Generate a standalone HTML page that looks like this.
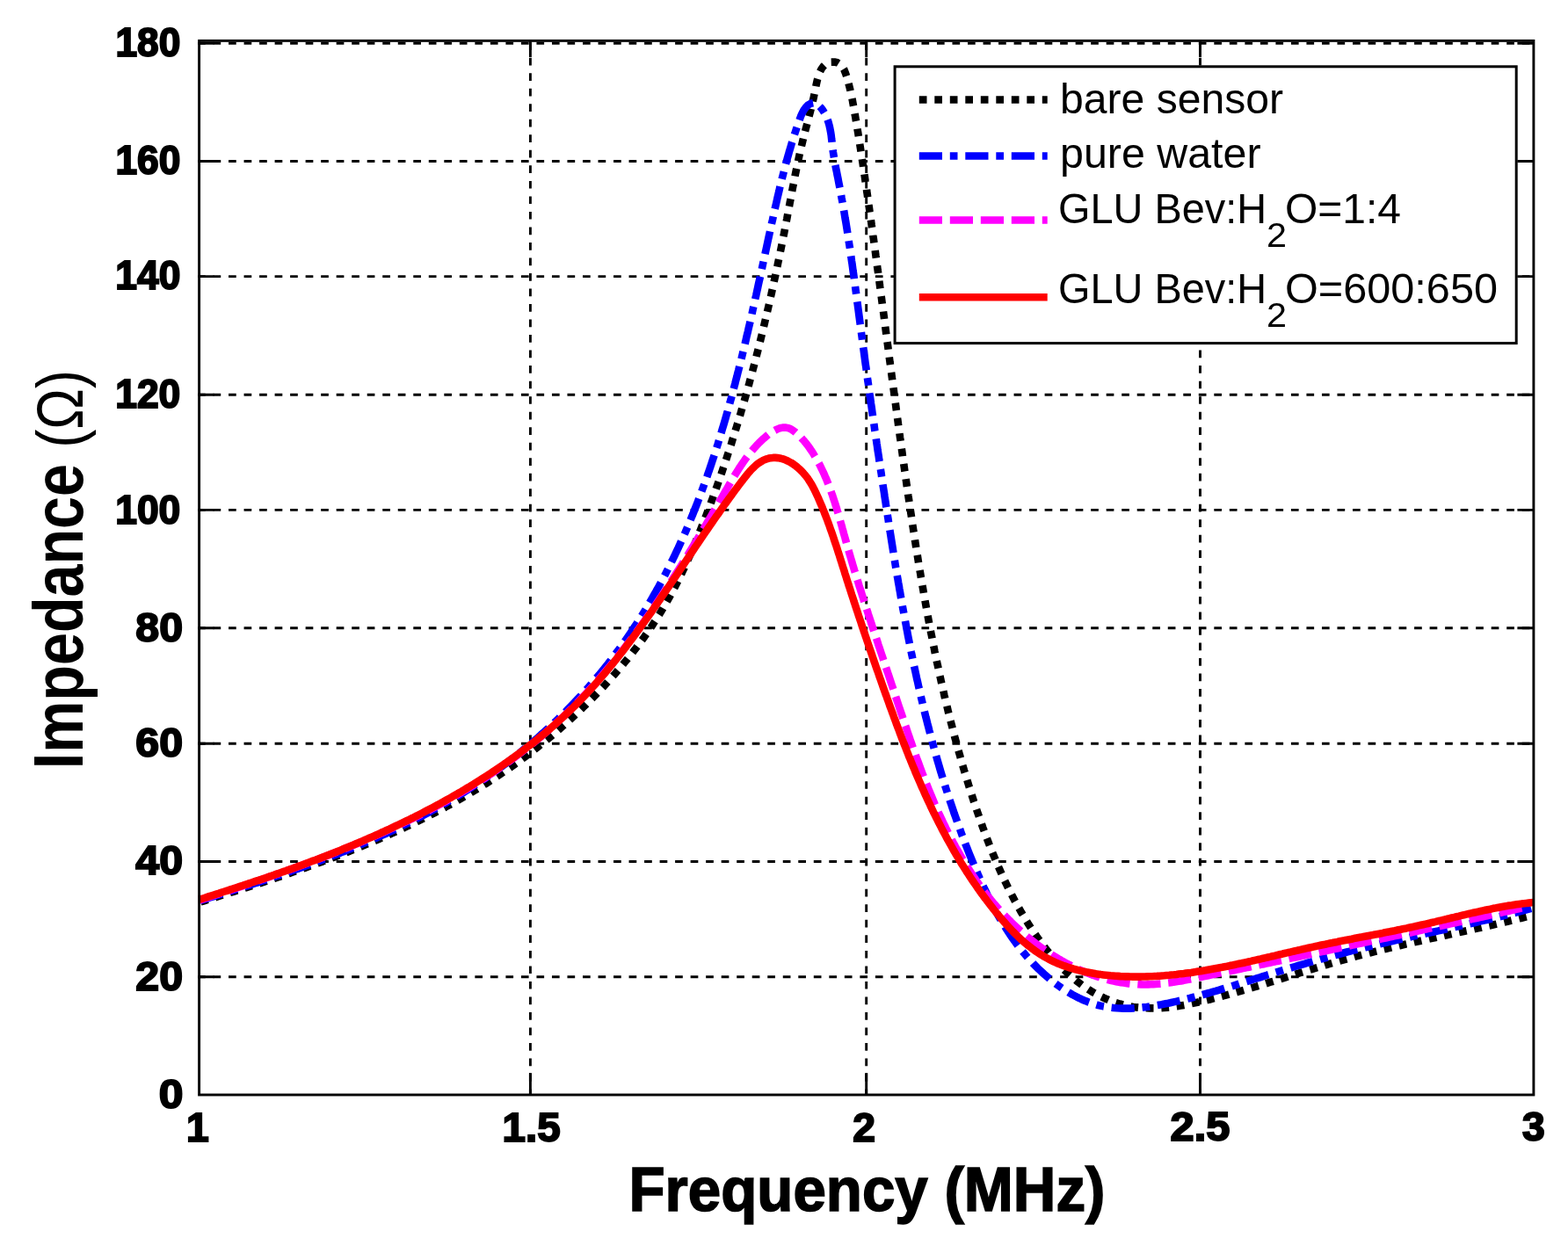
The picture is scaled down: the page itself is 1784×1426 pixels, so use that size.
<!DOCTYPE html>
<html><head><meta charset="utf-8"><title>Impedance vs Frequency</title>
<style>html,body{margin:0;padding:0;background:#fff;} svg{display:block;}</style>
</head><body>
<svg width="1784" height="1426" viewBox="0 0 1784 1426">
<rect width="1784" height="1426" fill="#fff"/>
<g stroke="#000" stroke-width="2.9" stroke-dasharray="8.7 8.82" fill="none">
<line x1="603.4" y1="48.2" x2="603.4" y2="1246.0"/>
<line x1="985.7" y1="48.2" x2="985.7" y2="1246.0"/>
<line x1="1365.5" y1="48.2" x2="1365.5" y2="1246.0"/>
<line x1="225.0" y1="49.3" x2="1744.9" y2="49.3"/>
<line x1="225.0" y1="183.5" x2="1744.9" y2="183.5"/>
<line x1="225.0" y1="314.6" x2="1744.9" y2="314.6"/>
<line x1="225.0" y1="449.2" x2="1744.9" y2="449.2"/>
<line x1="225.0" y1="580.4" x2="1744.9" y2="580.4"/>
<line x1="225.0" y1="714.8" x2="1744.9" y2="714.8"/>
<line x1="225.0" y1="846.2" x2="1744.9" y2="846.2"/>
<line x1="225.0" y1="980.5" x2="1744.9" y2="980.5"/>
<line x1="225.0" y1="1111.8" x2="1744.9" y2="1111.8"/>
</g>
<path d="M603.4,46.4 V64.9 M603.4,1246.0 V1221.0 M985.7,46.4 V64.9 M985.7,1246.0 V1221.0 M1365.5,46.4 V64.9 M1365.5,1246.0 V1221.0 M226.6,49.3 H243.6 M1744.9,49.3 H1726.4 M226.6,183.5 H243.6 M1744.9,183.5 H1726.4 M226.6,314.6 H243.6 M1744.9,314.6 H1726.4 M226.6,449.2 H243.6 M1744.9,449.2 H1726.4 M226.6,580.4 H243.6 M1744.9,580.4 H1726.4 M226.6,714.8 H243.6 M1744.9,714.8 H1726.4 M226.6,846.2 H243.6 M1744.9,846.2 H1726.4 M226.6,980.5 H243.6 M1744.9,980.5 H1726.4 M226.6,1111.8 H243.6 M1744.9,1111.8 H1726.4" stroke="#000" stroke-width="2.9" fill="none"/>
<g fill="none" stroke-width="8.6" stroke-linejoin="round">
<path d="M228.2,1026.4 L231.9,1025.3 L235.6,1024.1 L239.3,1023.0 L243.1,1021.8 L246.8,1020.7 L250.5,1019.5 L254.2,1018.4 L258.0,1017.2 L261.7,1016.0 L265.4,1014.9 L269.1,1013.7 L272.9,1012.5 L276.6,1011.3 L280.3,1010.1 L284.0,1008.9 L287.8,1007.7 L291.5,1006.5 L295.2,1005.3 L298.9,1004.1 L302.7,1002.9 L306.4,1001.6 L310.1,1000.4 L313.8,999.1 L317.6,997.9 L321.3,996.6 L325.0,995.4 L328.7,994.1 L332.4,992.8 L336.1,991.5 L339.9,990.2 L343.6,988.9 L347.3,987.6 L351.0,986.3 L354.7,984.9 L358.4,983.6 L362.1,982.2 L365.8,980.9 L369.4,979.5 L373.1,978.1 L376.8,976.8 L380.5,975.4 L384.2,974.0 L387.8,972.5 L391.5,971.1 L395.2,969.7 L398.8,968.2 L402.5,966.8 L406.1,965.3 L409.8,963.8 L413.4,962.3 L417.0,960.8 L420.7,959.3 L424.3,957.8 L427.9,956.3 L431.5,954.7 L435.1,953.2 L438.7,951.6 L442.3,950.0 L445.9,948.4 L449.5,946.8 L453.0,945.2 L456.6,943.5 L460.1,941.9 L463.7,940.2 L467.2,938.5 L470.8,936.8 L474.3,935.1 L477.8,933.4 L481.3,931.7 L484.8,929.9 L488.3,928.2 L491.8,926.4 L495.3,924.6 L498.8,922.8 L502.2,921.0 L505.7,919.1 L509.1,917.3 L512.6,915.4 L516.0,913.5 L519.4,911.6 L522.8,909.7 L526.2,907.8 L529.6,905.8 L533.0,903.8 L536.3,901.8 L539.7,899.8 L543.0,897.8 L546.4,895.8 L549.7,893.7 L553.0,891.7 L556.3,889.6 L559.6,887.4 L562.9,885.3 L566.1,883.2 L569.4,881.0 L572.6,878.8 L575.9,876.6 L579.1,874.4 L582.3,872.2 L585.5,869.9 L588.7,867.6 L591.8,865.3 L595.0,863.0 L598.1,860.7 L601.2,858.3 L604.4,856.0 L607.5,853.6 L610.6,851.2 L613.6,848.7 L616.7,846.3 L619.7,843.8 L622.8,841.4 L625.8,838.9 L628.8,836.4 L631.8,833.8 L634.7,831.3 L637.7,828.7 L640.7,826.1 L643.6,823.5 L646.5,820.9 L649.4,818.3 L652.3,815.6 L655.1,813.0 L658.0,810.3 L660.8,807.6 L663.6,804.8 L666.4,802.1 L669.2,799.3 L672.0,796.6 L674.8,793.8 L677.5,791.0 L680.2,788.2 L682.9,785.3 L685.6,782.5 L688.3,779.6 L690.9,776.7 L693.5,773.8 L696.2,770.8 L698.8,767.9 L701.3,764.9 L703.9,762.0 L706.4,759.0 L708.9,756.0 L711.4,752.9 L713.9,749.9 L716.4,746.8 L718.8,743.8 L721.2,740.7 L723.6,737.6 L726.0,734.4 L728.3,731.3 L730.7,728.1 L733.0,724.9 L735.2,721.7 L737.5,718.5 L739.7,715.3 L741.9,712.1 L744.0,708.8 L746.2,705.5 L748.3,702.2 L750.4,698.9 L752.4,695.5 L754.4,692.2 L756.4,688.8 L758.3,685.4 L760.3,682.0 L762.2,678.6 L764.0,675.2 L765.9,671.7 L767.7,668.2 L769.5,664.8 L771.2,661.3 L773.0,657.8 L774.7,654.2 L776.4,650.7 L778.1,647.2 L779.7,643.6 L781.3,640.0 L782.9,636.5 L784.5,632.9 L786.1,629.3 L787.7,625.7 L789.2,622.1 L790.7,618.5 L792.2,614.8 L793.7,611.2 L795.2,607.6 L796.7,603.9 L798.1,600.3 L799.5,596.6 L801.0,593.0 L802.4,589.3 L803.8,585.7 L805.2,582.0 L806.6,578.3 L808.0,574.7 L809.3,571.0 L810.7,567.3 L812.0,563.6 L813.4,559.9 L814.7,556.3 L816.0,552.6 L817.3,548.9 L818.6,545.2 L819.9,541.5 L821.2,537.8 L822.4,534.1 L823.7,530.3 L825.0,526.6 L826.2,522.9 L827.4,519.2 L828.6,515.5 L829.9,511.8 L831.1,508.0 L832.3,504.3 L833.4,500.6 L834.6,496.8 L835.8,493.1 L836.9,489.3 L838.1,485.6 L839.2,481.9 L840.4,478.1 L841.5,474.4 L842.6,470.6 L843.7,466.8 L844.8,463.1 L845.9,459.3 L847.0,455.5 L848.1,451.8 L849.1,448.0 L850.2,444.2 L851.2,440.5 L852.3,436.7 L853.3,432.9 L854.4,429.1 L855.4,425.3 L856.4,421.5 L857.4,417.7 L858.4,414.0 L859.4,410.2 L860.4,406.4 L861.3,402.6 L862.3,398.8 L863.3,395.0 L864.2,391.2 L865.2,387.3 L866.1,383.5 L867.1,379.7 L868.0,375.9 L868.9,372.1 L869.8,368.3 L870.7,364.4 L871.6,360.6 L872.5,356.8 L873.4,353.0 L874.3,349.1 L875.2,345.3 L876.0,341.5 L876.9,337.6 L877.8,333.8 L878.6,330.0 L879.5,326.1 L880.3,322.3 L881.1,318.4 L882.0,314.6 L882.8,310.8 L883.6,306.9 L884.4,303.1 L885.2,299.2 L886.0,295.4 L886.8,291.5 L887.6,287.6 L888.4,283.8 L889.2,279.9 L890.0,276.1 L890.7,272.2 L891.5,268.3 L892.3,264.5 L893.0,260.6 L893.8,256.7 L894.5,252.9 L895.3,249.0 L896.0,245.1 L896.7,241.3 L897.5,237.4 L898.2,233.5 L898.9,229.6 L899.7,225.8 L900.4,221.9 L901.1,218.0 L901.8,214.2 L902.6,210.3 L903.3,206.5 L904.1,202.7 L904.8,198.8 L905.6,195.0 L906.4,191.2 L907.2,187.4 L908.0,183.6 L908.8,179.8 L909.6,176.1 L910.4,172.3 L911.3,168.6 L912.2,164.9 L913.1,161.2 L914.0,157.5 L914.9,153.8 L915.8,150.2 L916.8,146.5 L917.8,142.9 L918.8,139.2 L919.7,135.4 L920.7,131.7 L921.7,127.9 L922.7,124.0 L923.1,122.0 L923.6,120.0 L924.1,118.0 L924.6,116.0 L925.0,114.0 L925.5,111.9 L926.0,109.8 L926.4,107.7 L926.8,105.5 L927.3,103.3 L927.7,101.1 L928.2,98.9 L928.6,96.7 L929.1,94.5 L929.6,92.3 L930.1,90.1 L930.7,88.0 L931.3,86.0 L932.0,84.0 L932.8,82.1 L934.5,78.6 L936.6,75.6 L939.1,73.2 L942.1,71.5 L945.6,70.6 L949.3,70.5 L952.8,71.3 L955.9,73.2 L958.4,75.9 L960.4,79.3 L961.2,81.3 L962.0,83.3 L962.7,85.3 L963.4,87.4 L964.0,89.5 L964.6,91.6 L965.2,93.6 L965.7,95.7 L966.2,97.7 L966.7,99.7 L967.2,101.7 L967.6,103.6 L968.1,105.6 L968.9,109.5 L969.7,113.3 L970.4,117.2 L971.1,121.0 L971.8,124.8 L972.4,128.6 L973.1,132.4 L973.7,136.2 L974.4,140.1 L975.0,143.9 L975.6,147.7 L976.3,151.6 L976.9,155.5 L977.5,159.3 L978.1,163.2 L978.7,167.0 L979.3,170.9 L979.9,174.8 L980.5,178.7 L981.1,182.6 L981.7,186.4 L982.2,190.3 L982.8,194.2 L983.4,198.1 L984.0,202.0 L984.5,205.9 L985.1,209.8 L985.7,213.6 L986.2,217.5 L986.8,221.4 L987.3,225.3 L987.9,229.2 L988.4,233.1 L989.0,237.0 L989.5,240.9 L990.1,244.7 L990.6,248.6 L991.2,252.5 L991.7,256.4 L992.3,260.3 L992.8,264.2 L993.3,268.1 L993.9,272.0 L994.4,275.8 L994.9,279.7 L995.5,283.6 L996.0,287.5 L996.5,291.4 L997.1,295.3 L997.6,299.2 L998.1,303.1 L998.6,307.0 L999.2,310.9 L999.7,314.7 L1000.2,318.6 L1000.7,322.5 L1001.2,326.4 L1001.8,330.3 L1002.3,334.2 L1002.8,338.1 L1003.3,342.0 L1003.8,345.9 L1004.3,349.8 L1004.9,353.6 L1005.4,357.5 L1005.9,361.4 L1006.4,365.3 L1006.9,369.2 L1007.4,373.1 L1007.9,377.0 L1008.4,380.9 L1009.0,384.8 L1009.5,388.7 L1010.0,392.6 L1010.5,396.4 L1011.0,400.3 L1011.5,404.2 L1012.0,408.1 L1012.5,412.0 L1013.1,415.9 L1013.6,419.8 L1014.1,423.7 L1014.6,427.6 L1015.1,431.5 L1015.6,435.3 L1016.2,439.2 L1016.7,443.1 L1017.2,447.0 L1017.7,450.9 L1018.2,454.8 L1018.8,458.7 L1019.3,462.6 L1019.8,466.5 L1020.3,470.3 L1020.8,474.2 L1021.4,478.1 L1021.9,482.0 L1022.4,485.9 L1023.0,489.8 L1023.5,493.7 L1024.0,497.6 L1024.6,501.4 L1025.1,505.3 L1025.6,509.2 L1026.2,513.1 L1026.7,517.0 L1027.2,520.9 L1027.8,524.8 L1028.3,528.7 L1028.9,532.5 L1029.4,536.4 L1030.0,540.3 L1030.5,544.2 L1031.1,548.1 L1031.6,552.0 L1032.2,555.9 L1032.8,559.7 L1033.3,563.6 L1033.9,567.5 L1034.5,571.4 L1035.0,575.3 L1035.6,579.2 L1036.2,583.0 L1036.8,586.9 L1037.4,590.8 L1037.9,594.7 L1038.5,598.6 L1039.1,602.4 L1039.7,606.3 L1040.3,610.2 L1040.9,614.1 L1041.5,618.0 L1042.1,621.8 L1042.7,625.7 L1043.4,629.6 L1044.0,633.5 L1044.6,637.3 L1045.2,641.2 L1045.9,645.1 L1046.5,649.0 L1047.2,652.8 L1047.8,656.7 L1048.5,660.6 L1049.1,664.4 L1049.8,668.3 L1050.5,672.2 L1051.1,676.0 L1051.8,679.9 L1052.5,683.8 L1053.2,687.6 L1053.9,691.5 L1054.6,695.4 L1055.3,699.2 L1056.0,703.1 L1056.7,706.9 L1057.5,710.8 L1058.2,714.6 L1058.9,718.5 L1059.7,722.3 L1060.5,726.2 L1061.2,730.0 L1062.0,733.9 L1062.8,737.7 L1063.5,741.6 L1064.3,745.4 L1065.1,749.2 L1065.9,753.1 L1066.8,756.9 L1067.6,760.7 L1068.4,764.6 L1069.2,768.4 L1070.1,772.2 L1070.9,776.1 L1071.8,779.9 L1072.7,783.7 L1073.6,787.5 L1074.4,791.4 L1075.3,795.2 L1076.2,799.0 L1077.2,802.8 L1078.1,806.6 L1079.0,810.4 L1080.0,814.2 L1080.9,818.0 L1081.9,821.8 L1082.9,825.6 L1083.8,829.4 L1084.8,833.2 L1085.8,837.0 L1086.8,840.8 L1087.9,844.6 L1088.9,848.4 L1089.9,852.2 L1091.0,856.0 L1092.1,859.7 L1093.1,863.5 L1094.2,867.3 L1095.3,871.1 L1096.4,874.8 L1097.5,878.6 L1098.7,882.4 L1099.8,886.1 L1101.0,889.9 L1102.1,893.6 L1103.3,897.4 L1104.5,901.1 L1105.7,904.9 L1106.9,908.6 L1108.1,912.4 L1109.4,916.1 L1110.6,919.8 L1111.9,923.6 L1113.2,927.3 L1114.5,931.0 L1115.8,934.7 L1117.1,938.5 L1118.4,942.2 L1119.8,945.9 L1121.1,949.6 L1122.5,953.3 L1123.9,956.9 L1125.3,960.6 L1126.8,964.3 L1128.2,967.9 L1129.7,971.6 L1131.2,975.2 L1132.7,978.8 L1134.2,982.5 L1135.8,986.1 L1137.4,989.6 L1139.0,993.2 L1140.6,996.8 L1142.2,1000.3 L1143.9,1003.9 L1145.6,1007.4 L1147.3,1010.9 L1149.1,1014.4 L1150.8,1017.8 L1152.6,1021.3 L1154.4,1024.7 L1156.3,1028.2 L1158.2,1031.6 L1160.1,1034.9 L1162.0,1038.3 L1164.0,1041.6 L1166.0,1045.0 L1168.0,1048.3 L1170.0,1051.5 L1172.1,1054.8 L1174.2,1058.0 L1176.4,1061.2 L1178.6,1064.4 L1180.8,1067.6 L1183.0,1070.7 L1185.3,1073.8 L1187.7,1076.9 L1190.0,1080.0 L1192.4,1083.0 L1194.8,1086.0 L1197.3,1089.0 L1199.8,1091.9 L1202.4,1094.8 L1205.0,1097.7 L1207.6,1100.5 L1210.3,1103.2 L1213.1,1106.0 L1215.9,1108.6 L1218.8,1111.2 L1221.8,1113.8 L1224.8,1116.3 L1227.9,1118.7 L1231.0,1121.0 L1234.3,1123.3 L1237.6,1125.5 L1241.0,1127.7 L1242.7,1128.7 L1244.4,1129.7 L1246.2,1130.7 L1247.9,1131.7 L1249.7,1132.6 L1251.5,1133.6 L1253.4,1134.5 L1255.2,1135.3 L1257.0,1136.2 L1258.9,1137.0 L1260.8,1137.8 L1262.6,1138.6 L1264.5,1139.3 L1266.4,1140.0 L1268.3,1140.7 L1270.2,1141.3 L1274.0,1142.5 L1277.8,1143.5 L1281.6,1144.4 L1285.4,1145.2 L1289.3,1145.9 L1293.1,1146.4 L1296.9,1146.8 L1300.8,1147.1 L1304.6,1147.3 L1308.5,1147.4 L1312.3,1147.4 L1316.2,1147.4 L1320.0,1147.2 L1323.9,1146.9 L1327.7,1146.6 L1331.6,1146.2 L1335.4,1145.7 L1339.3,1145.2 L1343.1,1144.6 L1347.0,1143.9 L1350.8,1143.2 L1354.7,1142.4 L1358.5,1141.6 L1362.3,1140.8 L1366.2,1139.9 L1370.0,1139.0 L1373.8,1138.1 L1377.6,1137.2 L1381.4,1136.2 L1385.2,1135.2 L1389.0,1134.2 L1392.8,1133.2 L1396.6,1132.2 L1400.4,1131.1 L1404.2,1130.1 L1407.9,1129.0 L1411.7,1127.9 L1415.5,1126.8 L1419.2,1125.7 L1423.0,1124.6 L1426.7,1123.5 L1430.5,1122.3 L1434.2,1121.2 L1438.0,1120.1 L1441.7,1118.9 L1445.4,1117.7 L1449.2,1116.6 L1452.9,1115.4 L1456.7,1114.2 L1460.4,1113.1 L1464.1,1111.9 L1467.9,1110.7 L1471.6,1109.6 L1475.3,1108.4 L1479.1,1107.2 L1482.8,1106.1 L1486.5,1104.9 L1490.3,1103.7 L1494.0,1102.6 L1497.8,1101.4 L1501.5,1100.3 L1505.3,1099.2 L1509.0,1098.0 L1512.8,1096.9 L1516.5,1095.8 L1520.3,1094.7 L1524.0,1093.7 L1527.8,1092.6 L1531.6,1091.5 L1535.3,1090.5 L1539.1,1089.5 L1542.9,1088.4 L1546.7,1087.4 L1550.5,1086.4 L1554.3,1085.5 L1558.1,1084.5 L1561.9,1083.5 L1565.7,1082.6 L1569.5,1081.7 L1573.3,1080.7 L1577.1,1079.8 L1580.9,1078.9 L1584.7,1078.0 L1588.6,1077.1 L1592.4,1076.2 L1596.2,1075.3 L1600.0,1074.4 L1603.9,1073.6 L1607.7,1072.7 L1611.5,1071.8 L1615.3,1071.0 L1619.2,1070.1 L1623.0,1069.3 L1626.9,1068.4 L1630.7,1067.6 L1634.5,1066.7 L1638.4,1065.9 L1642.2,1065.1 L1646.0,1064.2 L1649.9,1063.4 L1653.7,1062.5 L1657.5,1061.7 L1661.4,1060.9 L1665.2,1060.0 L1669.0,1059.2 L1672.9,1058.3 L1676.7,1057.5 L1680.5,1056.6 L1684.4,1055.8 L1688.2,1054.9 L1692.0,1054.0 L1695.8,1053.2 L1699.7,1052.3 L1703.5,1051.4 L1707.3,1050.5 L1711.1,1049.6 L1714.9,1048.7 L1718.7,1047.8 L1722.5,1046.9 L1726.3,1045.9 L1730.1,1045.0 L1733.9,1044.0 L1737.7,1043.1 L1741.5,1042.1 L1743.4,1041.6" stroke="#000" stroke-dasharray="8.7 8.8"/>
<path d="M228.0,1024.8 L231.6,1023.7 L235.3,1022.6 L238.9,1021.5 L242.5,1020.4 L246.1,1019.3 L249.7,1018.1 L253.3,1017.0 L257.0,1015.9 L260.6,1014.7 L264.2,1013.6 L267.8,1012.4 L271.4,1011.3 L275.1,1010.1 L278.7,1009.0 L282.3,1007.8 L285.9,1006.6 L289.6,1005.4 L293.2,1004.3 L296.8,1003.1 L300.4,1001.9 L304.1,1000.7 L307.7,999.5 L311.3,998.2 L314.9,997.0 L318.5,995.8 L322.1,994.6 L325.8,993.3 L329.4,992.1 L333.0,990.8 L336.6,989.5 L340.2,988.3 L343.8,987.0 L347.4,985.7 L351.0,984.4 L354.6,983.1 L358.2,981.7 L361.8,980.4 L365.3,979.1 L368.9,977.7 L372.5,976.4 L376.1,975.0 L379.6,973.6 L383.2,972.2 L386.7,970.9 L390.3,969.4 L393.9,968.0 L397.4,966.6 L400.9,965.1 L404.5,963.7 L408.0,962.2 L411.5,960.8 L415.0,959.3 L418.5,957.8 L422.0,956.2 L425.5,954.7 L429.0,953.2 L432.5,951.6 L436.0,950.1 L439.5,948.5 L442.9,946.9 L446.4,945.3 L449.9,943.7 L453.3,942.0 L456.7,940.4 L460.2,938.7 L463.6,937.1 L467.0,935.4 L470.4,933.7 L473.8,931.9 L477.2,930.2 L480.6,928.4 L483.9,926.7 L487.3,924.9 L490.6,923.1 L494.0,921.3 L497.3,919.4 L500.6,917.6 L503.9,915.7 L507.3,913.8 L510.5,911.9 L513.8,910.0 L517.1,908.1 L520.4,906.1 L523.6,904.2 L526.9,902.2 L530.1,900.2 L533.3,898.1 L536.5,896.1 L539.7,894.0 L542.9,891.9 L546.1,889.8 L549.2,887.7 L552.4,885.6 L555.5,883.4 L558.6,881.2 L561.7,879.0 L564.8,876.8 L567.9,874.6 L571.0,872.3 L574.1,870.1 L577.1,867.8 L580.1,865.5 L583.1,863.1 L586.2,860.8 L589.1,858.4 L592.1,856.0 L595.1,853.6 L598.0,851.2 L601.0,848.8 L603.9,846.3 L606.8,843.9 L609.7,841.4 L612.6,838.9 L615.4,836.3 L618.3,833.8 L621.1,831.2 L623.9,828.7 L626.7,826.1 L629.5,823.5 L632.3,820.9 L635.0,818.2 L637.7,815.6 L640.5,812.9 L643.2,810.2 L645.8,807.5 L648.5,804.8 L651.2,802.0 L653.8,799.3 L656.4,796.5 L659.0,793.8 L661.6,791.0 L664.1,788.1 L666.7,785.3 L669.2,782.5 L671.7,779.6 L674.2,776.8 L676.7,773.9 L679.1,771.0 L681.6,768.1 L684.0,765.1 L686.4,762.2 L688.8,759.2 L691.1,756.3 L693.5,753.3 L695.8,750.3 L698.1,747.3 L700.3,744.2 L702.6,741.2 L704.8,738.2 L707.1,735.1 L709.3,732.0 L711.5,728.9 L713.6,725.8 L715.8,722.7 L717.9,719.6 L720.0,716.4 L722.1,713.2 L724.2,710.1 L726.2,706.9 L728.3,703.7 L730.3,700.4 L732.3,697.2 L734.3,694.0 L736.2,690.7 L738.2,687.4 L740.1,684.1 L742.0,680.8 L743.9,677.5 L745.8,674.2 L747.6,670.9 L749.5,667.6 L751.3,664.2 L753.1,660.8 L754.9,657.5 L756.7,654.1 L758.4,650.7 L760.1,647.3 L761.8,643.9 L763.5,640.5 L765.2,637.1 L766.9,633.7 L768.5,630.2 L770.1,626.8 L771.8,623.3 L773.3,619.9 L774.9,616.4 L776.5,613.0 L778.0,609.5 L779.6,606.0 L781.1,602.5 L782.6,599.0 L784.0,595.5 L785.5,592.0 L786.9,588.5 L788.4,585.0 L789.8,581.4 L791.2,577.9 L792.6,574.4 L794.0,570.8 L795.3,567.3 L796.7,563.7 L798.0,560.1 L799.3,556.6 L800.6,553.0 L801.9,549.4 L803.2,545.8 L804.5,542.2 L805.7,538.6 L807.0,535.0 L808.2,531.4 L809.4,527.8 L810.6,524.2 L811.8,520.6 L813.0,517.0 L814.2,513.3 L815.3,509.7 L816.5,506.1 L817.6,502.4 L818.7,498.8 L819.8,495.1 L820.9,491.5 L822.0,487.8 L823.1,484.2 L824.2,480.5 L825.3,476.8 L826.3,473.2 L827.4,469.5 L828.4,465.8 L829.4,462.1 L830.4,458.5 L831.5,454.8 L832.5,451.1 L833.5,447.4 L834.4,443.7 L835.4,440.0 L836.4,436.3 L837.3,432.6 L838.3,428.9 L839.2,425.2 L840.2,421.5 L841.1,417.8 L842.0,414.1 L843.0,410.4 L843.9,406.7 L844.8,402.9 L845.7,399.2 L846.6,395.5 L847.5,391.8 L848.4,388.1 L849.2,384.3 L850.1,380.6 L851.0,376.9 L851.8,373.2 L852.7,369.5 L853.6,365.7 L854.4,362.0 L855.3,358.3 L856.1,354.6 L856.9,350.8 L857.8,347.1 L858.6,343.4 L859.4,339.6 L860.3,335.9 L861.1,332.2 L861.9,328.5 L862.7,324.7 L863.5,321.0 L864.4,317.3 L865.2,313.6 L866.0,309.9 L866.8,306.1 L867.6,302.4 L868.4,298.7 L869.2,295.0 L870.0,291.3 L870.8,287.5 L871.6,283.8 L872.4,280.1 L873.2,276.4 L874.0,272.7 L874.8,269.0 L875.6,265.3 L876.4,261.6 L877.2,257.9 L878.0,254.2 L878.9,250.5 L879.7,246.8 L880.5,243.1 L881.3,239.4 L882.1,235.7 L883.0,232.0 L883.8,228.4 L884.6,224.7 L885.5,221.0 L886.4,217.3 L887.2,213.6 L888.1,209.9 L889.0,206.3 L889.9,202.6 L890.9,198.9 L891.8,195.2 L892.8,191.5 L893.7,187.9 L894.7,184.2 L895.7,180.5 L896.8,176.8 L897.8,173.1 L898.9,169.4 L900.0,165.8 L901.1,162.1 L902.3,158.4 L903.4,154.7 L904.6,151.0 L905.8,147.3 L907.1,143.6 L908.4,139.9 L909.7,136.2 L911.0,132.6 L912.6,129.0 L914.4,125.6 L916.6,122.5 L919.2,119.7 L922.3,117.8 L925.5,117.2 L928.8,118.2 L931.8,120.4 L934.6,123.3 L935.8,124.9 L936.9,126.6 L937.9,128.3 L938.9,130.1 L939.8,131.9 L941.3,135.6 L942.6,139.3 L943.6,143.0 L944.4,146.7 L945.1,150.4 L945.7,154.1 L946.1,157.9 L946.6,161.6 L947.0,165.4 L947.4,169.1 L947.9,172.9 L948.5,176.6 L949.1,180.4 L949.7,184.1 L950.4,187.9 L951.1,191.6 L951.9,195.4 L952.6,199.1 L953.4,202.9 L954.1,206.7 L954.8,210.4 L955.6,214.2 L956.3,218.0 L957.0,221.7 L957.6,225.5 L958.3,229.2 L959.0,233.0 L959.6,236.8 L960.3,240.5 L960.9,244.3 L961.5,248.1 L962.2,251.9 L962.8,255.6 L963.4,259.4 L964.0,263.2 L964.6,266.9 L965.1,270.7 L965.7,274.5 L966.3,278.3 L966.9,282.0 L967.4,285.8 L968.0,289.6 L968.5,293.4 L969.0,297.1 L969.6,300.9 L970.1,304.7 L970.6,308.5 L971.2,312.2 L971.7,316.0 L972.2,319.8 L972.7,323.6 L973.2,327.3 L973.7,331.1 L974.2,334.9 L974.7,338.7 L975.2,342.5 L975.7,346.2 L976.2,350.0 L976.7,353.8 L977.2,357.6 L977.7,361.3 L978.2,365.1 L978.7,368.9 L979.2,372.7 L979.7,376.4 L980.2,380.2 L980.7,384.0 L981.2,387.8 L981.7,391.5 L982.2,395.3 L982.7,399.1 L983.2,402.9 L983.7,406.6 L984.2,410.4 L984.7,414.2 L985.3,417.9 L985.8,421.7 L986.3,425.5 L986.8,429.3 L987.3,433.0 L987.9,436.8 L988.4,440.6 L988.9,444.3 L989.4,448.1 L990.0,451.9 L990.5,455.6 L991.0,459.4 L991.6,463.2 L992.1,466.9 L992.6,470.7 L993.2,474.5 L993.7,478.3 L994.3,482.0 L994.8,485.8 L995.3,489.6 L995.9,493.3 L996.4,497.1 L997.0,500.9 L997.5,504.6 L998.1,508.4 L998.6,512.2 L999.2,515.9 L999.8,519.7 L1000.3,523.5 L1000.9,527.2 L1001.4,531.0 L1002.0,534.8 L1002.6,538.5 L1003.1,542.3 L1003.7,546.1 L1004.2,549.9 L1004.8,553.6 L1005.4,557.4 L1006.0,561.2 L1006.5,564.9 L1007.1,568.7 L1007.7,572.5 L1008.2,576.3 L1008.8,580.0 L1009.4,583.8 L1010.0,587.6 L1010.6,591.3 L1011.1,595.1 L1011.7,598.9 L1012.3,602.7 L1012.9,606.4 L1013.5,610.2 L1014.1,614.0 L1014.7,617.7 L1015.3,621.5 L1015.9,625.3 L1016.5,629.1 L1017.1,632.8 L1017.7,636.6 L1018.3,640.4 L1018.9,644.1 L1019.6,647.9 L1020.2,651.7 L1020.8,655.4 L1021.5,659.2 L1022.1,663.0 L1022.8,666.7 L1023.4,670.5 L1024.1,674.3 L1024.7,678.0 L1025.4,681.8 L1026.0,685.6 L1026.7,689.3 L1027.4,693.1 L1028.1,696.8 L1028.8,700.6 L1029.5,704.3 L1030.2,708.1 L1030.9,711.8 L1031.6,715.6 L1032.3,719.3 L1033.0,723.1 L1033.7,726.8 L1034.5,730.6 L1035.2,734.3 L1036.0,738.1 L1036.7,741.8 L1037.5,745.5 L1038.3,749.3 L1039.0,753.0 L1039.8,756.8 L1040.6,760.5 L1041.4,764.2 L1042.2,767.9 L1043.0,771.7 L1043.9,775.4 L1044.7,779.1 L1045.5,782.8 L1046.4,786.5 L1047.2,790.3 L1048.1,794.0 L1049.0,797.7 L1049.8,801.4 L1050.7,805.1 L1051.6,808.8 L1052.5,812.5 L1053.4,816.2 L1054.4,819.9 L1055.3,823.6 L1056.3,827.3 L1057.2,831.0 L1058.2,834.7 L1059.1,838.3 L1060.1,842.0 L1061.1,845.7 L1062.1,849.4 L1063.1,853.0 L1064.2,856.7 L1065.2,860.4 L1066.2,864.0 L1067.3,867.7 L1068.4,871.4 L1069.4,875.0 L1070.5,878.7 L1071.6,882.3 L1072.7,886.0 L1073.9,889.6 L1075.0,893.2 L1076.1,896.9 L1077.3,900.5 L1078.5,904.1 L1079.7,907.8 L1080.8,911.4 L1082.1,915.0 L1083.3,918.6 L1084.5,922.2 L1085.7,925.8 L1087.0,929.4 L1088.3,933.0 L1089.6,936.6 L1090.9,940.2 L1092.2,943.8 L1093.5,947.4 L1094.8,950.9 L1096.2,954.5 L1097.5,958.1 L1098.9,961.7 L1100.3,965.2 L1101.7,968.8 L1103.1,972.3 L1104.6,975.9 L1106.0,979.4 L1107.5,983.0 L1109.0,986.5 L1110.5,990.0 L1112.0,993.5 L1113.5,997.1 L1115.1,1000.6 L1116.6,1004.1 L1118.2,1007.5 L1119.8,1011.0 L1121.5,1014.5 L1123.1,1017.9 L1124.8,1021.3 L1126.5,1024.7 L1128.3,1028.1 L1130.0,1031.5 L1131.8,1034.9 L1133.7,1038.2 L1135.5,1041.5 L1137.4,1044.8 L1139.3,1048.1 L1141.3,1051.3 L1143.3,1054.5 L1145.3,1057.7 L1147.4,1060.9 L1149.5,1064.0 L1151.6,1067.2 L1153.8,1070.2 L1156.0,1073.3 L1158.3,1076.3 L1160.6,1079.3 L1162.9,1082.2 L1165.3,1085.1 L1167.8,1088.0 L1170.2,1090.8 L1172.8,1093.6 L1175.3,1096.4 L1178.0,1099.1 L1180.6,1101.8 L1183.4,1104.4 L1186.2,1107.0 L1189.0,1109.6 L1191.9,1112.1 L1194.8,1114.5 L1197.8,1116.9 L1200.9,1119.3 L1204.0,1121.6 L1207.1,1123.8 L1210.4,1126.0 L1213.6,1128.1 L1216.9,1130.1 L1220.2,1132.0 L1223.6,1133.8 L1227.1,1135.6 L1230.5,1137.2 L1234.0,1138.7 L1237.5,1140.1 L1241.1,1141.4 L1244.7,1142.6 L1248.3,1143.7 L1252.0,1144.6 L1255.6,1145.4 L1259.3,1146.0 L1263.0,1146.6 L1266.8,1147.0 L1270.5,1147.3 L1274.3,1147.5 L1278.1,1147.6 L1281.8,1147.6 L1285.6,1147.6 L1289.5,1147.4 L1293.3,1147.1 L1297.1,1146.8 L1300.9,1146.4 L1304.7,1146.0 L1308.6,1145.4 L1312.4,1144.9 L1316.2,1144.2 L1320.0,1143.6 L1323.8,1142.8 L1327.6,1142.1 L1331.4,1141.3 L1335.2,1140.4 L1338.9,1139.6 L1342.7,1138.7 L1346.4,1137.8 L1350.1,1136.9 L1353.8,1136.0 L1357.5,1135.0 L1361.2,1134.0 L1364.9,1133.0 L1368.5,1132.0 L1372.2,1131.0 L1375.8,1130.0 L1379.4,1128.9 L1383.1,1127.9 L1386.7,1126.8 L1390.3,1125.7 L1393.9,1124.6 L1397.5,1123.5 L1401.1,1122.4 L1404.7,1121.3 L1408.3,1120.2 L1411.9,1119.0 L1415.5,1117.9 L1419.1,1116.8 L1422.7,1115.7 L1426.3,1114.5 L1429.9,1113.4 L1433.5,1112.3 L1437.1,1111.1 L1440.7,1110.0 L1444.4,1108.9 L1448.0,1107.7 L1451.6,1106.6 L1455.2,1105.5 L1458.9,1104.4 L1462.5,1103.3 L1466.2,1102.2 L1469.8,1101.1 L1473.5,1100.0 L1477.1,1098.9 L1480.8,1097.8 L1484.4,1096.8 L1488.1,1095.7 L1491.8,1094.7 L1495.5,1093.6 L1499.1,1092.6 L1502.8,1091.5 L1506.5,1090.5 L1510.2,1089.5 L1513.9,1088.5 L1517.6,1087.5 L1521.3,1086.5 L1524.9,1085.5 L1528.6,1084.5 L1532.3,1083.5 L1536.0,1082.6 L1539.8,1081.6 L1543.5,1080.7 L1547.2,1079.8 L1550.9,1078.9 L1554.6,1078.0 L1558.3,1077.1 L1562.0,1076.2 L1565.7,1075.3 L1569.4,1074.4 L1573.1,1073.5 L1576.9,1072.7 L1580.6,1071.8 L1584.3,1071.0 L1588.0,1070.1 L1591.7,1069.3 L1595.4,1068.4 L1599.2,1067.6 L1602.9,1066.8 L1606.6,1065.9 L1610.3,1065.1 L1614.1,1064.3 L1617.8,1063.5 L1621.5,1062.6 L1625.2,1061.8 L1628.9,1061.0 L1632.7,1060.2 L1636.4,1059.4 L1640.1,1058.5 L1643.8,1057.7 L1647.5,1056.9 L1651.3,1056.1 L1655.0,1055.2 L1658.7,1054.4 L1662.4,1053.6 L1666.1,1052.7 L1669.9,1051.9 L1673.6,1051.0 L1677.3,1050.2 L1681.0,1049.3 L1684.7,1048.4 L1688.4,1047.6 L1692.2,1046.7 L1695.9,1045.8 L1699.6,1044.9 L1703.3,1044.0 L1707.0,1043.1 L1710.7,1042.2 L1714.4,1041.2 L1718.1,1040.3 L1721.8,1039.3 L1725.5,1038.4 L1729.2,1037.4 L1732.9,1036.4 L1736.6,1035.4 L1740.3,1034.4 L1742.1,1033.9" stroke="#00f" stroke-dasharray="26.2 8.8 8.7 8.8"/>
<path d="M226.9,1024.5 L229.6,1023.6 L232.2,1022.8 L234.8,1021.9 L237.4,1021.1 L240.1,1020.2 L242.7,1019.3 L245.3,1018.5 L248.0,1017.6 L250.6,1016.7 L253.3,1015.9 L255.9,1015.0 L258.6,1014.1 L261.2,1013.3 L263.9,1012.4 L266.5,1011.5 L269.2,1010.6 L271.8,1009.7 L274.5,1008.8 L277.2,1007.9 L279.8,1007.0 L282.5,1006.1 L285.2,1005.2 L287.8,1004.3 L290.5,1003.4 L293.2,1002.5 L295.9,1001.6 L298.5,1000.7 L301.2,999.8 L303.9,998.8 L306.6,997.9 L309.2,997.0 L311.9,996.0 L314.6,995.1 L317.3,994.1 L319.9,993.2 L322.6,992.2 L325.3,991.3 L328.0,990.3 L330.7,989.4 L333.3,988.4 L336.0,987.4 L338.7,986.5 L341.4,985.5 L344.1,984.5 L346.7,983.5 L349.4,982.5 L352.1,981.5 L354.8,980.5 L357.5,979.5 L360.1,978.5 L362.8,977.5 L365.5,976.4 L368.2,975.4 L370.8,974.4 L373.5,973.4 L376.2,972.3 L378.8,971.3 L381.5,970.2 L384.2,969.2 L386.8,968.1 L389.5,967.0 L392.1,966.0 L394.8,964.9 L397.5,963.8 L400.1,962.7 L402.8,961.6 L405.4,960.5 L408.1,959.4 L410.7,958.3 L413.4,957.2 L416.0,956.0 L418.6,954.9 L421.3,953.8 L423.9,952.6 L426.5,951.5 L429.2,950.3 L431.8,949.2 L434.4,948.0 L437.0,946.8 L439.6,945.6 L442.2,944.4 L444.8,943.2 L447.4,942.0 L450.0,940.8 L452.6,939.6 L455.2,938.4 L457.8,937.2 L460.4,935.9 L463.0,934.7 L465.6,933.4 L468.1,932.2 L470.7,930.9 L473.3,929.7 L475.8,928.4 L478.4,927.1 L480.9,925.8 L483.5,924.5 L486.0,923.2 L488.6,921.9 L491.1,920.5 L493.6,919.2 L496.1,917.9 L498.7,916.5 L501.2,915.2 L503.7,913.8 L506.2,912.4 L508.7,911.1 L511.2,909.7 L513.6,908.3 L516.1,906.9 L518.6,905.4 L521.1,904.0 L523.5,902.6 L526.0,901.2 L528.4,899.7 L530.9,898.3 L533.3,896.8 L535.7,895.3 L538.2,893.8 L540.6,892.3 L543.0,890.8 L545.4,889.3 L547.8,887.8 L550.2,886.3 L552.6,884.8 L554.9,883.2 L557.3,881.7 L559.7,880.1 L562.0,878.5 L564.4,876.9 L566.7,875.3 L569.0,873.7 L571.4,872.1 L573.7,870.5 L576.0,868.9 L578.3,867.2 L580.6,865.6 L582.9,863.9 L585.2,862.2 L587.4,860.6 L589.7,858.9 L591.9,857.2 L594.2,855.5 L596.4,853.7 L598.7,852.0 L600.9,850.3 L603.1,848.5 L605.3,846.7 L607.5,845.0 L609.7,843.2 L611.8,841.4 L614.0,839.6 L616.2,837.8 L618.3,835.9 L620.5,834.1 L622.6,832.2 L624.7,830.4 L626.8,828.5 L628.9,826.6 L631.0,824.7 L633.1,822.8 L635.2,820.9 L637.2,819.0 L639.3,817.0 L641.3,815.1 L643.4,813.1 L645.4,811.2 L647.4,809.2 L649.4,807.2 L651.4,805.2 L653.4,803.2 L655.4,801.2 L657.4,799.1 L659.3,797.1 L661.3,795.1 L663.2,793.0 L665.2,790.9 L667.1,788.9 L669.0,786.8 L670.9,784.7 L672.8,782.6 L674.7,780.5 L676.6,778.3 L678.5,776.2 L680.4,774.1 L682.2,771.9 L684.1,769.8 L685.9,767.6 L687.8,765.5 L689.6,763.3 L691.4,761.1 L693.3,758.9 L695.1,756.7 L696.9,754.5 L698.7,752.3 L700.5,750.1 L702.2,747.9 L704.0,745.6 L705.8,743.4 L707.6,741.1 L709.3,738.9 L711.1,736.6 L712.8,734.4 L714.5,732.1 L716.3,729.8 L718.0,727.5 L719.7,725.2 L721.4,722.9 L723.1,720.6 L724.8,718.3 L726.5,716.0 L728.1,713.7 L729.8,711.4 L731.5,709.0 L733.2,706.7 L734.8,704.4 L736.5,702.0 L738.1,699.7 L739.7,697.3 L741.4,695.0 L743.0,692.6 L744.6,690.2 L746.2,687.9 L747.8,685.5 L749.4,683.1 L751.0,680.7 L752.6,678.4 L754.2,676.0 L755.8,673.6 L757.4,671.2 L759.0,668.8 L760.5,666.4 L762.1,664.0 L763.6,661.6 L765.2,659.2 L766.7,656.7 L768.3,654.3 L769.8,651.9 L771.4,649.5 L772.9,647.1 L774.4,644.6 L775.9,642.2 L777.4,639.8 L778.9,637.4 L780.5,634.9 L782.0,632.5 L783.5,630.1 L784.9,627.6 L786.4,625.2 L787.9,622.7 L789.4,620.3 L790.9,617.9 L792.4,615.4 L793.8,613.0 L795.3,610.5 L796.8,608.1 L798.2,605.6 L799.7,603.2 L801.1,600.7 L802.6,598.3 L804.0,595.8 L805.5,593.4 L806.9,591.0 L808.3,588.5 L809.8,586.1 L811.2,583.6 L812.6,581.2 L814.0,578.7 L815.5,576.3 L816.9,573.9 L818.3,571.4 L819.7,569.0 L821.1,566.5 L822.5,564.1 L823.9,561.7 L825.3,559.2 L826.7,556.8 L828.1,554.4 L829.5,551.9 L830.9,549.5 L832.3,547.1 L833.8,544.7 L835.2,542.3 L836.6,539.9 L838.1,537.5 L839.6,535.2 L841.0,532.8 L842.6,530.5 L844.1,528.2 L845.7,525.9 L847.3,523.6 L848.9,521.3 L850.6,519.1 L852.3,516.9 L854.1,514.7 L855.9,512.5 L857.7,510.4 L859.6,508.3 L861.5,506.2 L863.5,504.1 L865.6,502.1 L867.7,500.1 L869.9,498.2 L872.1,496.3 L874.4,494.4 L876.7,492.7 L879.1,491.1 L881.5,489.8 L883.9,488.6 L886.3,487.6 L888.7,486.9 L891.1,486.6 L893.6,486.6 L895.9,486.9 L898.3,487.6 L900.6,488.8 L902.9,490.3 L905.1,492.0 L907.3,493.9 L909.4,495.9 L911.4,497.9 L913.3,500.1 L915.2,502.2 L917.1,504.5 L918.9,506.8 L920.6,509.1 L922.2,511.5 L923.9,513.9 L925.4,516.4 L926.9,518.9 L928.4,521.4 L929.8,523.9 L931.2,526.4 L932.6,529.0 L933.9,531.6 L935.1,534.2 L936.4,536.8 L937.6,539.4 L938.7,542.0 L939.9,544.6 L941.0,547.3 L942.0,549.9 L943.1,552.6 L944.1,555.3 L945.1,558.0 L946.0,560.7 L947.0,563.3 L947.9,566.1 L948.8,568.8 L949.7,571.5 L950.5,574.2 L951.4,576.9 L952.2,579.7 L953.0,582.4 L953.9,585.1 L954.7,587.9 L955.4,590.6 L956.2,593.4 L957.0,596.1 L957.8,598.9 L958.5,601.6 L959.3,604.4 L960.0,607.1 L960.8,609.9 L961.6,612.6 L962.3,615.3 L963.1,618.1 L963.9,620.8 L964.6,623.5 L965.4,626.3 L966.2,629.0 L967.0,631.7 L967.8,634.4 L968.6,637.1 L969.4,639.8 L970.2,642.6 L971.0,645.3 L971.8,648.0 L972.6,650.7 L973.5,653.4 L974.3,656.1 L975.1,658.7 L976.0,661.4 L976.8,664.1 L977.6,666.8 L978.5,669.5 L979.3,672.2 L980.2,674.9 L981.0,677.6 L981.9,680.2 L982.7,682.9 L983.6,685.6 L984.5,688.3 L985.3,691.0 L986.2,693.6 L987.1,696.3 L987.9,699.0 L988.8,701.7 L989.7,704.3 L990.6,707.0 L991.4,709.7 L992.3,712.4 L993.2,715.0 L994.1,717.7 L995.0,720.4 L995.9,723.1 L996.8,725.7 L997.7,728.4 L998.6,731.1 L999.4,733.8 L1000.3,736.4 L1001.2,739.1 L1002.1,741.8 L1003.0,744.5 L1003.9,747.2 L1004.8,749.8 L1005.7,752.5 L1006.6,755.2 L1007.5,757.9 L1008.4,760.6 L1009.3,763.3 L1010.2,766.0 L1011.1,768.7 L1012.0,771.4 L1012.9,774.1 L1013.8,776.8 L1014.7,779.5 L1015.6,782.2 L1016.5,784.9 L1017.4,787.7 L1018.3,790.4 L1019.2,793.1 L1020.1,795.8 L1021.0,798.5 L1021.9,801.3 L1022.8,804.0 L1023.7,806.7 L1024.6,809.4 L1025.6,812.2 L1026.5,814.9 L1027.4,817.6 L1028.3,820.4 L1029.2,823.1 L1030.1,825.8 L1031.1,828.5 L1032.0,831.3 L1032.9,834.0 L1033.8,836.7 L1034.8,839.5 L1035.7,842.2 L1036.7,844.9 L1037.6,847.6 L1038.6,850.4 L1039.5,853.1 L1040.5,855.8 L1041.5,858.5 L1042.4,861.2 L1043.4,863.9 L1044.4,866.6 L1045.4,869.3 L1046.4,872.0 L1047.4,874.7 L1048.4,877.4 L1049.4,880.1 L1050.5,882.8 L1051.5,885.5 L1052.5,888.2 L1053.6,890.9 L1054.7,893.5 L1055.7,896.2 L1056.8,898.9 L1057.9,901.5 L1059.0,904.2 L1060.1,906.8 L1061.2,909.4 L1062.3,912.1 L1063.4,914.7 L1064.6,917.3 L1065.7,919.9 L1066.9,922.6 L1068.0,925.2 L1069.2,927.8 L1070.4,930.3 L1071.6,932.9 L1072.8,935.5 L1074.0,938.1 L1075.3,940.6 L1076.5,943.2 L1077.8,945.7 L1079.0,948.3 L1080.3,950.8 L1081.6,953.3 L1082.9,955.8 L1084.2,958.3 L1085.6,960.8 L1086.9,963.3 L1088.3,965.8 L1089.7,968.2 L1091.1,970.7 L1092.5,973.1 L1093.9,975.6 L1095.3,978.0 L1096.8,980.4 L1098.2,982.8 L1099.7,985.2 L1101.2,987.6 L1102.7,989.9 L1104.2,992.3 L1105.8,994.6 L1107.3,997.0 L1108.9,999.3 L1110.5,1001.6 L1112.1,1003.9 L1113.7,1006.2 L1115.3,1008.5 L1117.0,1010.7 L1118.7,1013.0 L1120.4,1015.2 L1122.1,1017.4 L1123.8,1019.7 L1125.6,1021.8 L1127.3,1024.0 L1129.1,1026.2 L1130.9,1028.4 L1132.8,1030.5 L1134.6,1032.6 L1136.5,1034.7 L1138.3,1036.8 L1140.2,1038.9 L1142.2,1041.0 L1144.1,1043.0 L1146.1,1045.0 L1148.1,1047.1 L1150.1,1049.1 L1152.1,1051.0 L1154.2,1053.0 L1156.2,1055.0 L1158.3,1056.9 L1160.4,1058.8 L1162.6,1060.7 L1164.7,1062.6 L1166.9,1064.5 L1169.1,1066.3 L1171.3,1068.1 L1173.6,1069.9 L1175.8,1071.7 L1178.1,1073.5 L1180.4,1075.2 L1182.7,1076.9 L1185.0,1078.6 L1187.4,1080.3 L1189.7,1081.9 L1192.1,1083.5 L1194.5,1085.1 L1196.9,1086.7 L1199.4,1088.2 L1201.8,1089.7 L1204.3,1091.2 L1206.8,1092.6 L1209.3,1094.1 L1211.8,1095.5 L1214.3,1096.8 L1216.8,1098.1 L1219.4,1099.4 L1222.0,1100.7 L1224.5,1101.9 L1227.1,1103.1 L1229.7,1104.3 L1232.3,1105.4 L1235.0,1106.5 L1237.6,1107.5 L1240.3,1108.6 L1242.9,1109.5 L1245.6,1110.5 L1248.3,1111.4 L1251.0,1112.2 L1253.7,1113.1 L1256.4,1113.9 L1259.1,1114.6 L1261.8,1115.3 L1264.6,1116.0 L1267.3,1116.6 L1270.1,1117.2 L1272.9,1117.7 L1275.6,1118.2 L1278.4,1118.6 L1281.2,1119.0 L1284.0,1119.4 L1286.8,1119.7 L1289.6,1119.9 L1292.4,1120.1 L1295.2,1120.3 L1298.0,1120.4 L1300.9,1120.5 L1303.7,1120.5 L1306.5,1120.4 L1309.4,1120.3 L1312.2,1120.2 L1315.0,1120.0 L1317.9,1119.8 L1320.7,1119.6 L1323.6,1119.3 L1326.4,1118.9 L1329.3,1118.6 L1332.1,1118.2 L1335.0,1117.8 L1337.9,1117.3 L1340.7,1116.8 L1343.6,1116.4 L1346.4,1115.9 L1349.3,1115.3 L1352.1,1114.8 L1355.0,1114.2 L1357.8,1113.7 L1360.7,1113.1 L1363.5,1112.5 L1366.3,1112.0 L1369.2,1111.4 L1372.0,1110.8 L1374.8,1110.2 L1377.7,1109.6 L1380.5,1109.1 L1383.3,1108.5 L1386.1,1107.9 L1388.9,1107.3 L1391.7,1106.8 L1394.6,1106.2 L1397.4,1105.6 L1400.2,1105.0 L1403.0,1104.4 L1405.8,1103.9 L1408.6,1103.3 L1411.3,1102.7 L1414.1,1102.1 L1416.9,1101.5 L1419.7,1100.9 L1422.5,1100.4 L1425.3,1099.8 L1428.1,1099.2 L1430.8,1098.6 L1433.6,1098.0 L1436.4,1097.4 L1439.2,1096.9 L1441.9,1096.3 L1444.7,1095.7 L1447.5,1095.1 L1450.2,1094.5 L1453.0,1093.9 L1455.8,1093.4 L1458.6,1092.8 L1461.3,1092.2 L1464.1,1091.6 L1466.8,1091.0 L1469.6,1090.4 L1472.4,1089.8 L1475.1,1089.2 L1477.9,1088.7 L1480.7,1088.1 L1483.4,1087.5 L1486.2,1086.9 L1489.0,1086.3 L1491.7,1085.7 L1494.5,1085.1 L1497.2,1084.5 L1500.0,1083.9 L1502.8,1083.3 L1505.5,1082.8 L1508.3,1082.2 L1511.1,1081.6 L1513.8,1081.0 L1516.6,1080.4 L1519.4,1079.8 L1522.2,1079.2 L1524.9,1078.6 L1527.7,1078.0 L1530.5,1077.4 L1533.3,1076.8 L1536.0,1076.2 L1538.8,1075.6 L1541.6,1075.0 L1544.4,1074.4 L1547.1,1073.8 L1549.9,1073.2 L1552.7,1072.6 L1555.5,1072.0 L1558.3,1071.4 L1561.1,1070.8 L1563.8,1070.2 L1566.6,1069.6 L1569.4,1069.0 L1572.2,1068.4 L1575.0,1067.8 L1577.8,1067.2 L1580.6,1066.6 L1583.3,1066.0 L1586.1,1065.4 L1588.9,1064.8 L1591.7,1064.2 L1594.5,1063.6 L1597.3,1063.0 L1600.1,1062.4 L1602.9,1061.8 L1605.6,1061.2 L1608.4,1060.6 L1611.2,1060.0 L1614.0,1059.3 L1616.8,1058.7 L1619.6,1058.1 L1622.4,1057.5 L1625.2,1056.9 L1628.0,1056.3 L1630.7,1055.7 L1633.5,1055.1 L1636.3,1054.5 L1639.1,1053.9 L1641.9,1053.3 L1644.7,1052.6 L1647.5,1052.0 L1650.2,1051.4 L1653.0,1050.8 L1655.8,1050.2 L1658.6,1049.6 L1661.4,1049.0 L1664.2,1048.4 L1666.9,1047.8 L1669.7,1047.1 L1672.5,1046.5 L1675.3,1045.9 L1678.1,1045.3 L1680.8,1044.7 L1683.6,1044.1 L1686.4,1043.5 L1689.2,1042.8 L1691.9,1042.2 L1694.7,1041.6 L1697.5,1041.0 L1700.2,1040.4 L1703.0,1039.8 L1705.8,1039.2 L1708.5,1038.5 L1711.3,1037.9 L1714.1,1037.3 L1716.8,1036.7 L1719.6,1036.1 L1722.3,1035.5 L1725.1,1034.8 L1727.8,1034.2 L1730.6,1033.6 L1733.3,1033.0 L1734.7,1032.7" stroke="#f0f" stroke-dasharray="26.2 8.8"/>
<path d="M227.0,1023.7 L229.8,1022.8 L232.5,1022.0 L235.2,1021.1 L237.9,1020.2 L240.6,1019.4 L243.3,1018.5 L246.0,1017.6 L248.7,1016.8 L251.4,1015.9 L254.1,1015.0 L256.8,1014.2 L259.5,1013.3 L262.1,1012.4 L264.8,1011.5 L267.5,1010.7 L270.1,1009.8 L272.8,1008.9 L275.5,1008.0 L278.1,1007.2 L280.8,1006.3 L283.4,1005.4 L286.1,1004.5 L288.7,1003.6 L291.4,1002.7 L294.0,1001.9 L296.6,1001.0 L299.3,1000.1 L301.9,999.2 L304.5,998.3 L307.1,997.4 L309.8,996.5 L312.4,995.6 L315.0,994.6 L317.6,993.7 L320.2,992.8 L322.8,991.9 L325.4,991.0 L328.0,990.0 L330.6,989.1 L333.2,988.2 L335.8,987.2 L338.4,986.3 L341.0,985.4 L343.6,984.4 L346.1,983.5 L348.7,982.5 L351.3,981.6 L353.9,980.6 L356.4,979.6 L359.0,978.7 L361.6,977.7 L364.1,976.7 L366.7,975.7 L369.3,974.7 L371.8,973.7 L374.4,972.7 L376.9,971.7 L379.5,970.7 L382.1,969.7 L384.6,968.7 L387.2,967.7 L389.7,966.6 L392.2,965.6 L394.8,964.5 L397.3,963.5 L399.9,962.4 L402.4,961.4 L405.0,960.3 L407.5,959.3 L410.0,958.2 L412.6,957.1 L415.1,956.0 L417.6,954.9 L420.1,953.8 L422.7,952.7 L425.2,951.6 L427.7,950.5 L430.3,949.3 L432.8,948.2 L435.3,947.0 L437.8,945.9 L440.3,944.7 L442.9,943.6 L445.4,942.4 L447.9,941.2 L450.4,940.0 L452.9,938.8 L455.4,937.6 L458.0,936.4 L460.5,935.2 L463.0,934.0 L465.5,932.8 L468.0,931.5 L470.5,930.3 L473.0,929.0 L475.5,927.8 L478.0,926.5 L480.5,925.2 L483.0,923.9 L485.4,922.6 L487.9,921.3 L490.4,920.0 L492.9,918.7 L495.4,917.4 L497.8,916.0 L500.3,914.7 L502.8,913.4 L505.2,912.0 L507.7,910.6 L510.1,909.3 L512.6,907.9 L515.0,906.5 L517.5,905.1 L519.9,903.7 L522.3,902.3 L524.8,900.9 L527.2,899.4 L529.6,898.0 L532.0,896.5 L534.4,895.1 L536.8,893.6 L539.2,892.2 L541.6,890.7 L544.0,889.2 L546.4,887.7 L548.7,886.2 L551.1,884.7 L553.5,883.2 L555.8,881.6 L558.2,880.1 L560.5,878.5 L562.9,877.0 L565.2,875.4 L567.5,873.9 L569.8,872.3 L572.1,870.7 L574.4,869.1 L576.7,867.5 L579.0,865.9 L581.3,864.2 L583.6,862.6 L585.8,861.0 L588.1,859.3 L590.3,857.7 L592.6,856.0 L594.8,854.3 L597.0,852.6 L599.3,850.9 L601.5,849.2 L603.7,847.5 L605.9,845.8 L608.0,844.1 L610.2,842.3 L612.4,840.6 L614.5,838.8 L616.7,837.0 L618.8,835.3 L621.0,833.5 L623.1,831.7 L625.2,829.9 L627.3,828.1 L629.4,826.2 L631.5,824.4 L633.5,822.5 L635.6,820.7 L637.6,818.8 L639.7,817.0 L641.7,815.1 L643.7,813.2 L645.7,811.3 L647.7,809.4 L649.7,807.5 L651.7,805.5 L653.6,803.6 L655.6,801.6 L657.5,799.7 L659.5,797.7 L661.4,795.7 L663.3,793.8 L665.2,791.8 L667.1,789.8 L668.9,787.8 L670.8,785.7 L672.7,783.7 L674.5,781.7 L676.4,779.6 L678.2,777.6 L680.0,775.5 L681.8,773.4 L683.6,771.4 L685.4,769.3 L687.2,767.2 L689.0,765.1 L690.7,763.0 L692.5,760.8 L694.2,758.7 L696.0,756.6 L697.7,754.5 L699.5,752.3 L701.2,750.2 L702.9,748.0 L704.6,745.8 L706.3,743.7 L708.0,741.5 L709.7,739.3 L711.4,737.1 L713.0,734.9 L714.7,732.7 L716.4,730.5 L718.0,728.3 L719.7,726.1 L721.3,723.9 L723.0,721.7 L724.6,719.4 L726.2,717.2 L727.9,714.9 L729.5,712.7 L731.1,710.4 L732.7,708.2 L734.3,705.9 L736.0,703.7 L737.6,701.4 L739.2,699.1 L740.8,696.9 L742.3,694.6 L743.9,692.3 L745.5,690.0 L747.1,687.7 L748.7,685.4 L750.3,683.1 L751.8,680.8 L753.4,678.5 L755.0,676.2 L756.6,673.9 L758.1,671.6 L759.7,669.3 L761.3,667.0 L762.8,664.7 L764.4,662.4 L766.0,660.0 L767.5,657.7 L769.1,655.4 L770.7,653.1 L772.2,650.7 L773.8,648.4 L775.3,646.1 L776.9,643.8 L778.5,641.4 L780.0,639.1 L781.6,636.8 L783.2,634.4 L784.7,632.1 L786.3,629.8 L787.9,627.4 L789.4,625.1 L791.0,622.7 L792.6,620.4 L794.2,618.1 L795.8,615.7 L797.3,613.4 L798.9,611.1 L800.5,608.7 L802.1,606.4 L803.7,604.1 L805.3,601.8 L806.9,599.4 L808.5,597.1 L810.1,594.8 L811.7,592.4 L813.3,590.1 L814.9,587.8 L816.6,585.5 L818.2,583.2 L819.8,580.9 L821.5,578.5 L823.1,576.2 L824.7,573.9 L826.4,571.6 L828.1,569.3 L829.7,567.0 L831.4,564.7 L833.1,562.4 L834.7,560.1 L836.4,557.8 L838.1,555.6 L839.8,553.3 L841.5,551.0 L843.2,548.7 L845.0,546.5 L846.7,544.2 L848.5,542.0 L850.2,539.8 L852.0,537.7 L853.8,535.6 L855.7,533.6 L857.6,531.8 L859.5,530.0 L861.5,528.3 L863.6,526.8 L865.7,525.4 L867.8,524.2 L870.0,523.2 L872.3,522.3 L874.7,521.6 L877.1,521.2 L879.6,520.9 L882.2,520.9 L884.7,521.1 L887.3,521.5 L889.9,522.1 L892.4,522.9 L894.9,524.0 L897.4,525.2 L899.9,526.5 L902.3,528.0 L904.6,529.7 L906.9,531.5 L909.1,533.4 L911.2,535.4 L913.3,537.5 L915.2,539.7 L917.0,541.9 L918.8,544.2 L920.4,546.6 L921.9,549.0 L923.4,551.4 L924.8,553.9 L926.1,556.4 L927.3,558.9 L928.5,561.4 L929.7,564.0 L930.9,566.5 L932.0,569.1 L933.1,571.7 L934.2,574.2 L935.3,576.8 L936.3,579.4 L937.4,582.0 L938.4,584.6 L939.4,587.1 L940.4,589.7 L941.4,592.3 L942.3,594.9 L943.3,597.5 L944.2,600.2 L945.1,602.8 L946.1,605.4 L947.0,608.0 L947.9,610.6 L948.7,613.2 L949.6,615.9 L950.5,618.5 L951.4,621.1 L952.2,623.7 L953.1,626.4 L953.9,629.0 L954.8,631.6 L955.6,634.3 L956.4,636.9 L957.3,639.6 L958.1,642.2 L958.9,644.8 L959.8,647.5 L960.6,650.1 L961.4,652.8 L962.3,655.4 L963.1,658.0 L963.9,660.7 L964.8,663.3 L965.6,666.0 L966.5,668.6 L967.3,671.2 L968.2,673.9 L969.0,676.5 L969.9,679.2 L970.8,681.8 L971.6,684.5 L972.5,687.1 L973.3,689.7 L974.2,692.4 L975.1,695.0 L976.0,697.7 L976.8,700.3 L977.7,702.9 L978.6,705.6 L979.5,708.2 L980.3,710.9 L981.2,713.5 L982.1,716.1 L983.0,718.8 L983.9,721.4 L984.8,724.1 L985.7,726.7 L986.6,729.3 L987.5,732.0 L988.4,734.6 L989.3,737.3 L990.2,739.9 L991.1,742.5 L992.0,745.2 L992.9,747.8 L993.8,750.4 L994.7,753.1 L995.6,755.7 L996.5,758.3 L997.4,761.0 L998.4,763.6 L999.3,766.2 L1000.2,768.9 L1001.1,771.5 L1002.1,774.1 L1003.0,776.8 L1003.9,779.4 L1004.8,782.0 L1005.8,784.7 L1006.7,787.3 L1007.6,789.9 L1008.6,792.5 L1009.5,795.2 L1010.5,797.8 L1011.4,800.4 L1012.3,803.0 L1013.3,805.7 L1014.3,808.3 L1015.2,810.9 L1016.2,813.5 L1017.1,816.2 L1018.1,818.8 L1019.1,821.4 L1020.0,824.0 L1021.0,826.6 L1022.0,829.2 L1023.0,831.8 L1023.9,834.4 L1024.9,837.0 L1025.9,839.6 L1026.9,842.2 L1027.9,844.8 L1028.9,847.4 L1030.0,850.0 L1031.0,852.6 L1032.0,855.2 L1033.0,857.8 L1034.0,860.4 L1035.1,862.9 L1036.1,865.5 L1037.2,868.1 L1038.2,870.7 L1039.3,873.2 L1040.4,875.8 L1041.4,878.4 L1042.5,880.9 L1043.6,883.5 L1044.7,886.0 L1045.8,888.6 L1046.9,891.1 L1048.0,893.7 L1049.1,896.2 L1050.3,898.8 L1051.4,901.3 L1052.5,903.8 L1053.7,906.3 L1054.8,908.9 L1056.0,911.4 L1057.2,913.9 L1058.4,916.4 L1059.5,918.9 L1060.7,921.4 L1061.9,923.9 L1063.2,926.4 L1064.4,928.9 L1065.6,931.3 L1066.9,933.8 L1068.1,936.3 L1069.4,938.8 L1070.6,941.2 L1071.9,943.7 L1073.2,946.1 L1074.5,948.6 L1075.8,951.0 L1077.1,953.5 L1078.4,955.9 L1079.8,958.3 L1081.1,960.7 L1082.5,963.1 L1083.9,965.6 L1085.2,968.0 L1086.6,970.4 L1088.0,972.8 L1089.4,975.1 L1090.9,977.5 L1092.3,979.9 L1093.7,982.3 L1095.2,984.6 L1096.7,987.0 L1098.2,989.3 L1099.6,991.7 L1101.2,994.0 L1102.7,996.3 L1104.2,998.7 L1105.7,1001.0 L1107.3,1003.3 L1108.9,1005.6 L1110.5,1007.9 L1112.1,1010.2 L1113.7,1012.4 L1115.3,1014.7 L1116.9,1017.0 L1118.6,1019.2 L1120.2,1021.5 L1121.9,1023.7 L1123.6,1026.0 L1125.3,1028.2 L1127.0,1030.4 L1128.8,1032.7 L1130.5,1034.9 L1132.3,1037.1 L1134.0,1039.2 L1135.8,1041.4 L1137.6,1043.6 L1139.5,1045.8 L1141.3,1047.9 L1143.2,1050.0 L1145.0,1052.1 L1146.9,1054.2 L1148.8,1056.3 L1150.8,1058.4 L1152.7,1060.4 L1154.7,1062.4 L1156.7,1064.3 L1158.7,1066.3 L1160.7,1068.2 L1162.8,1070.1 L1164.9,1071.9 L1167.0,1073.7 L1169.1,1075.5 L1171.3,1077.2 L1173.5,1078.9 L1175.7,1080.6 L1177.9,1082.2 L1180.2,1083.8 L1182.4,1085.3 L1184.8,1086.7 L1187.1,1088.2 L1189.5,1089.5 L1191.9,1090.8 L1194.3,1092.1 L1196.7,1093.3 L1199.2,1094.5 L1201.7,1095.6 L1204.2,1096.7 L1206.8,1097.7 L1209.3,1098.7 L1211.9,1099.6 L1214.5,1100.5 L1217.1,1101.4 L1219.8,1102.2 L1222.4,1103.0 L1225.1,1103.7 L1227.8,1104.4 L1230.5,1105.1 L1233.2,1105.7 L1235.9,1106.3 L1238.7,1106.8 L1241.4,1107.3 L1244.2,1107.8 L1246.9,1108.3 L1249.7,1108.7 L1252.5,1109.1 L1255.2,1109.4 L1258.0,1109.7 L1260.8,1110.0 L1263.6,1110.3 L1266.4,1110.5 L1269.2,1110.8 L1272.0,1110.9 L1274.8,1111.1 L1277.6,1111.2 L1280.4,1111.4 L1283.1,1111.4 L1285.9,1111.5 L1288.7,1111.6 L1291.5,1111.6 L1294.3,1111.6 L1297.0,1111.6 L1299.8,1111.5 L1302.6,1111.5 L1305.4,1111.4 L1308.1,1111.3 L1310.9,1111.2 L1313.7,1111.0 L1316.4,1110.9 L1319.2,1110.7 L1322.0,1110.5 L1324.7,1110.3 L1327.5,1110.0 L1330.3,1109.8 L1333.0,1109.5 L1335.8,1109.3 L1338.5,1109.0 L1341.3,1108.6 L1344.0,1108.3 L1346.8,1108.0 L1349.5,1107.6 L1352.3,1107.2 L1355.0,1106.9 L1357.8,1106.5 L1360.5,1106.1 L1363.3,1105.6 L1366.0,1105.2 L1368.7,1104.7 L1371.5,1104.3 L1374.2,1103.8 L1377.0,1103.3 L1379.7,1102.8 L1382.4,1102.3 L1385.2,1101.8 L1387.9,1101.3 L1390.6,1100.8 L1393.4,1100.2 L1396.1,1099.7 L1398.8,1099.1 L1401.6,1098.6 L1404.3,1098.0 L1407.0,1097.4 L1409.7,1096.8 L1412.5,1096.3 L1415.2,1095.7 L1417.9,1095.1 L1420.6,1094.5 L1423.4,1093.9 L1426.1,1093.2 L1428.8,1092.6 L1431.5,1092.0 L1434.3,1091.4 L1437.0,1090.7 L1439.7,1090.1 L1442.4,1089.5 L1445.2,1088.9 L1447.9,1088.2 L1450.6,1087.6 L1453.3,1086.9 L1456.0,1086.3 L1458.8,1085.7 L1461.5,1085.0 L1464.2,1084.4 L1466.9,1083.8 L1469.7,1083.1 L1472.4,1082.5 L1475.1,1081.9 L1477.8,1081.3 L1480.5,1080.6 L1483.3,1080.0 L1486.0,1079.4 L1488.7,1078.8 L1491.4,1078.2 L1494.1,1077.6 L1496.9,1077.0 L1499.6,1076.4 L1502.3,1075.8 L1505.0,1075.2 L1507.8,1074.7 L1510.5,1074.1 L1513.2,1073.5 L1515.9,1073.0 L1518.6,1072.4 L1521.4,1071.9 L1524.1,1071.3 L1526.8,1070.8 L1529.5,1070.3 L1532.3,1069.7 L1535.0,1069.2 L1537.7,1068.7 L1540.4,1068.1 L1543.2,1067.6 L1545.9,1067.1 L1548.6,1066.6 L1551.3,1066.0 L1554.1,1065.5 L1556.8,1065.0 L1559.5,1064.5 L1562.2,1064.0 L1564.9,1063.4 L1567.7,1062.9 L1570.4,1062.4 L1573.1,1061.9 L1575.8,1061.3 L1578.6,1060.8 L1581.3,1060.3 L1584.0,1059.7 L1586.7,1059.2 L1589.4,1058.6 L1592.2,1058.1 L1594.9,1057.5 L1597.6,1056.9 L1600.3,1056.4 L1603.0,1055.8 L1605.8,1055.2 L1608.5,1054.6 L1611.2,1054.0 L1613.9,1053.4 L1616.6,1052.8 L1619.3,1052.2 L1622.1,1051.6 L1624.8,1051.0 L1627.5,1050.3 L1630.2,1049.7 L1632.9,1049.1 L1635.6,1048.4 L1638.3,1047.8 L1641.1,1047.1 L1643.8,1046.5 L1646.5,1045.8 L1649.2,1045.2 L1651.9,1044.5 L1654.6,1043.9 L1657.3,1043.2 L1660.0,1042.6 L1662.8,1041.9 L1665.5,1041.3 L1668.2,1040.6 L1670.9,1040.0 L1673.6,1039.4 L1676.3,1038.8 L1679.1,1038.2 L1681.8,1037.6 L1684.5,1037.0 L1687.2,1036.4 L1689.9,1035.8 L1692.7,1035.2 L1695.4,1034.7 L1698.1,1034.1 L1700.8,1033.6 L1703.6,1033.0 L1706.3,1032.5 L1709.0,1032.0 L1711.8,1031.5 L1714.5,1031.1 L1717.2,1030.6 L1720.0,1030.2 L1722.7,1029.7 L1725.4,1029.3 L1728.2,1028.9 L1730.9,1028.6 L1733.7,1028.2 L1736.4,1027.9 L1739.2,1027.6 L1741.9,1027.3 L1744.7,1027.0 L1744.7,1027.0" stroke="#f00"/>
</g>
<rect x="226.6" y="46.4" width="1518.3000000000002" height="1199.6" fill="none" stroke="#000" stroke-width="2.9"/>
<g>
<rect x="1018.1" y="75.8" width="707.1" height="314.8" fill="#fff" stroke="#000" stroke-width="3"/>
<g fill="none" stroke-width="8.5">
<line x1="1045.8" y1="113.6" x2="1191.7" y2="113.6" stroke="#000" stroke-dasharray="8.7 8.8"/>
<line x1="1045.8" y1="177.5" x2="1191.7" y2="177.5" stroke="#00f" stroke-dasharray="26.2 8.8 8.7 8.8"/>
<line x1="1045.8" y1="250.6" x2="1191.7" y2="250.6" stroke="#f0f" stroke-dasharray="26.2 8.8"/>
<line x1="1045.8" y1="338.3" x2="1191.7" y2="338.3" stroke="#f00"/>
</g>
<g font-family="'Liberation Sans', Arial, sans-serif" font-size="47.7" fill="#000">
<text x="1206" y="129.3" textLength="254" lengthAdjust="spacingAndGlyphs">bare sensor</text>
<text x="1206" y="190.8" textLength="228.5" lengthAdjust="spacingAndGlyphs">pure water</text>
<text x="1204" y="254.3"><tspan textLength="237" lengthAdjust="spacingAndGlyphs">GLU Bev:H</tspan><tspan x="1441" y="280.5" font-size="39" textLength="23" lengthAdjust="spacingAndGlyphs">2</tspan><tspan x="1462" y="254.3" textLength="132" lengthAdjust="spacingAndGlyphs">O=1:4</tspan></text>
<text x="1204" y="344.8"><tspan textLength="237" lengthAdjust="spacingAndGlyphs">GLU Bev:H</tspan><tspan x="1441" y="371.5" font-size="39" textLength="23" lengthAdjust="spacingAndGlyphs">2</tspan><tspan x="1462" y="344.8" textLength="242" lengthAdjust="spacingAndGlyphs">O=600:650</tspan></text>
</g>
</g>
<g font-family="'Liberation Sans', Arial, sans-serif" font-weight="bold" font-size="46.2" fill="#000" stroke="#000" stroke-width="2">
<text x="131.4" y="63.8" textLength="73.9" lengthAdjust="spacingAndGlyphs">180</text>
<text x="131.4" y="198.1" textLength="73.9" lengthAdjust="spacingAndGlyphs">160</text>
<text x="131.3" y="329.3" textLength="74.0" lengthAdjust="spacingAndGlyphs">140</text>
<text x="131.2" y="463.6" textLength="74.1" lengthAdjust="spacingAndGlyphs">120</text>
<text x="131.2" y="595.5" textLength="74.1" lengthAdjust="spacingAndGlyphs">100</text>
<text x="154.3" y="730.1" textLength="53.7" lengthAdjust="spacingAndGlyphs">80</text>
<text x="154.3" y="860.9" textLength="53.7" lengthAdjust="spacingAndGlyphs">60</text>
<text x="154.3" y="995.2" textLength="53.7" lengthAdjust="spacingAndGlyphs">40</text>
<text x="154.3" y="1126.5" textLength="53.7" lengthAdjust="spacingAndGlyphs">20</text>
<text x="180.7" y="1260.6" textLength="27.7" lengthAdjust="spacingAndGlyphs">0</text>
<text x="224.9" y="1298.5" text-anchor="middle">1</text>
<text x="571.6" y="1298.8" textLength="66.0" lengthAdjust="spacingAndGlyphs">1.5</text>
<text x="983.0" y="1298.7" text-anchor="middle">2</text>
<text x="1331.6" y="1298.3" textLength="67.7" lengthAdjust="spacingAndGlyphs">2.5</text>
<text x="1744.9" y="1298.4" text-anchor="middle">3</text>
</g>
<text font-family="'Liberation Sans', Arial, sans-serif" font-weight="bold" font-size="70.5" stroke="#000" stroke-width="1.6" x="715.5" y="1378.4" textLength="542" lengthAdjust="spacingAndGlyphs">Frequency (MHz)</text>
<text font-family="'Liberation Sans', Arial, sans-serif" font-weight="bold" font-size="80" transform="translate(93.9,875.3) rotate(-90)" x="0" y="0" textLength="454" lengthAdjust="spacingAndGlyphs">Impedance <tspan font-weight="normal" font-size="75">(&#937;)</tspan></text>
</svg>
</body></html>
